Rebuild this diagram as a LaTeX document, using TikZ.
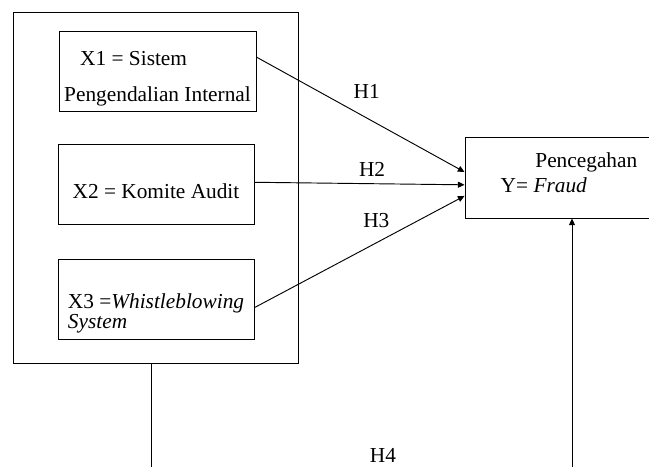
\documentclass[tikz,border=0pt]{standalone}
\usepackage{fontspec}
\setmainfont{Liberation Serif}
\usetikzlibrary{arrows.meta}

\begin{document}
\begin{tikzpicture}[>={Triangle[length=5pt,width=4.5pt]}, x=0.75pt, y=-0.75pt, line width=0.7pt,
    font=\fontsize{16}{18}\selectfont,
    varbox/.style={draw, minimum width=147pt, minimum height=60pt, align=left, inner sep=0pt}]
    \useasboundingbox (0,0) rectangle (649,467);
    \clip (0,0) rectangle (649,467);
    % frame round the three independent variables
    \node[draw, minimum width=213.75pt, minimum height=263.25pt] (outer) at (155.5,187.5) {};
    \node[varbox, minimum width=147.75pt, text height=45pt, text depth=0pt] (x1) at (157.5,71)
        {\hspace*{12pt}X1 = Sistem\\[9pt]Pengendalian Internal};
    \node[varbox, text height=21pt, text depth=0pt] (x2) at (156,184) {X2 = Komite Audit};
    \node[varbox, text height=43.5pt, text depth=0pt] (x3) at (156,299)
        {X3 =\textit{Whistleblowing}\\[-3pt]\textit{System}};
    % dependent variable
    \node[varbox, minimum width=156pt, minimum height=60.75pt, text height=21.75pt, text depth=0pt] (y) at (569,177.5)
        {\hspace*{26pt}Pencegahan\\[0.75pt]Y= \textit{Fraud}};
    \draw[->] (x1.8) -- (y.177) node[pos=.53, yshift=20pt] (h1) {H1};
    \draw[->] (x2.1) -- (y.184) node[pos=.56, yshift=11pt] (h2) {H2};
    \draw[->] (x3.-5) -- (y.190) node[pos=.58, yshift=17pt] (h3) {H3};
    % joint effect, runs off the bottom edge
    \coordinate (b1) at (151,470);
    \coordinate (b2) at (572,470);
    \draw (b1 |- outer.south) -- (b1);
    \draw[->] (b2) -- (b2 |- y.south);
    \node (h4) at (383,455) {H4};
\end{tikzpicture}
\end{document}
